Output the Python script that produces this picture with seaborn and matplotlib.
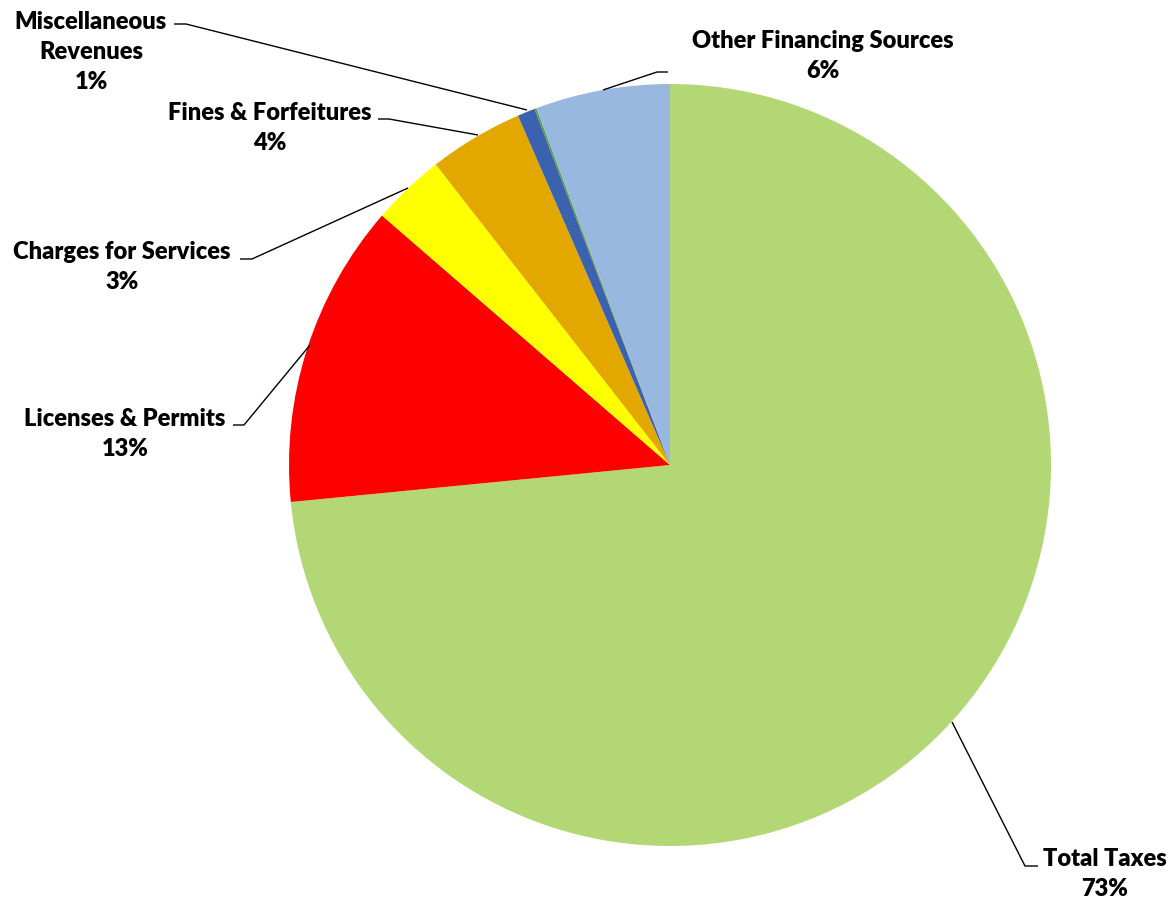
import matplotlib
matplotlib.use("Agg")
import matplotlib.pyplot as plt
import seaborn as sns

# Revenue sources (share of total, in percent), clockwise from 12 o'clock
categories = [
    "Total Taxes",
    "Licenses & Permits",
    "Charges for Services",
    "Fines & Forfeitures",
    "Miscellaneous\nRevenues",
    "Interest",
    "Other Financing Sources",
]
values = [73.4, 12.9, 3.1, 4.0, 0.75, 0.08, 5.7]
colors = ["#B2D774", "#FF0000", "#FFFF00", "#E2A800", "#3A62AE", "#5E9C3A", "#98B8DF"]
show_label = [True, True, True, True, True, False, True]

sns.set_theme(style="white")
plt.rcParams["font.family"] = ["Lato", "DejaVu Sans"]

W, H = 1176, 908
fig = plt.figure(figsize=(W / 100, H / 100), dpi=100)
ax = fig.add_axes([0, 0, 1, 1])

cx, cy, r = 670, H - 465, 381
wedges, _ = ax.pie(
    values,
    colors=colors,
    startangle=90,
    counterclock=False,
    center=(cx, cy),
    radius=r,
    frame=True,
    wedgeprops=dict(linewidth=0),
)
ax.set_xlim(0, W)
ax.set_ylim(0, H)
ax.set_aspect("equal")
ax.axis("off")

total = sum(values)

# label block centre (x, y in pixels from top), leader: text end -> elbow -> pie edge
label_layout = {
    "Total Taxes": dict(xy=(1105, 874), line=[(1038, 866), (1025, 866), (952, 722)]),
    "Licenses & Permits": dict(xy=(125, 434), line=[(233, 425), (244, 425), (310, 345)]),
    "Charges for Services": dict(xy=(122, 267), line=[(240, 259), (252, 259), (408, 188)]),
    "Fines & Forfeitures": dict(xy=(270, 128), line=[(378, 119), (389, 119), (478, 135)]),
    "Miscellaneous\nRevenues": dict(xy=(91, 52), line=[(174, 24), (186, 24), (527, 110)]),
    "Other Financing Sources": dict(xy=(823, 56), line=[(668, 72), (657, 72), (603, 90)]),
}

for name, val, show in zip(categories, values, show_label):
    if not show:
        continue
    pct = round(val / total * 100)
    lay = label_layout[name]
    x, y = lay["xy"]
    ax.text(x, H - y, f"{name}\n{pct}%", ha="center", va="center",
            fontsize=17, fontweight="heavy", color="black", linespacing=1.45)
    xs = [p[0] for p in lay["line"]]
    ys = [H - p[1] for p in lay["line"]]
    ax.plot(xs, ys, color="black", linewidth=1.0, solid_capstyle="butt")

fig.savefig("out.png", dpi=100, facecolor="white")
